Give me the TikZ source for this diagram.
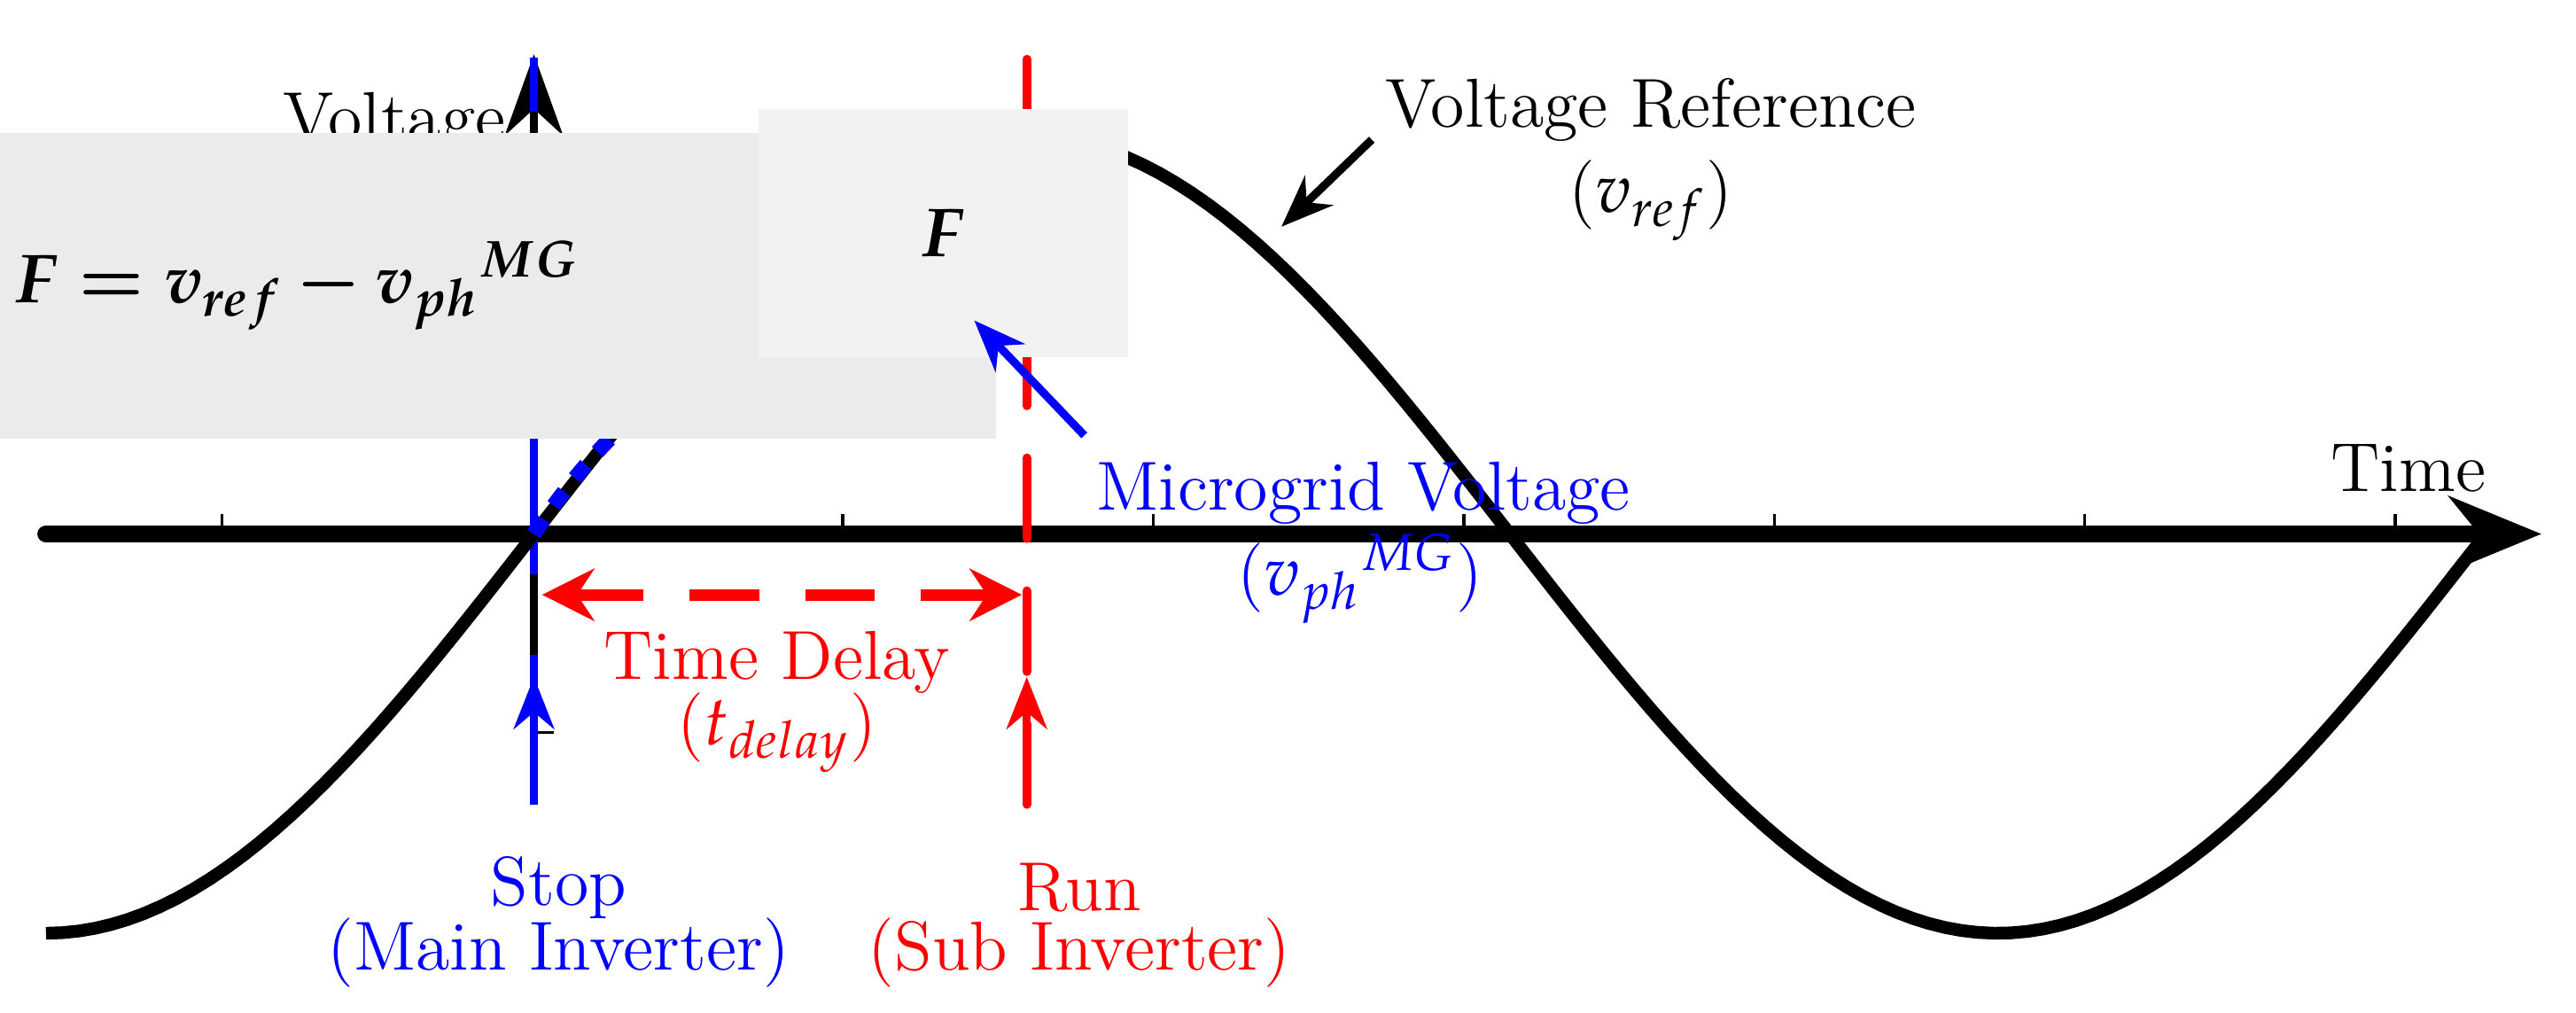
\documentclass[tikz,border=0pt]{standalone}
\usepackage{amsmath}
\usepackage{mathpazo}
\usepackage{bm}
\usetikzlibrary{arrows.meta,positioning}
\definecolor{shade}{gray}{0.86}
\definecolor{boxgray}{gray}{0.92}
\begin{document}
\begin{tikzpicture}[x=0.01cm,y=-0.01cm]

  % Styles
  \tikzset{lbl/.style={font=\large,align=center,inner sep=1pt}}
  \tikzset{to/.style={-{Stealth[length=9pt,width=7pt]},line width=1.4pt}}
  \tikzset{tick/.style={line width=0.5pt}}

  \useasboundingbox (0,0) rectangle (1568,616);

  % Shaded area between reference and microgrid voltage
  \fill[shade] plot[domain=325:622,samples=40] (\x,{325+243*cos((\x-28)*0.30303)})
    -- (622,187) .. controls (560,160) and (420,180) .. (325,325) -- cycle;

  % Ticks
  \foreach \tx in {135,513,702,891,1080,1269,1458}
    \draw[tick] (\tx,325) -- (\tx,313);
  \foreach \ty in {82,203,446}
    \draw[tick] (325,\ty) -- (337,\ty);

  % Axes
  \coordinate (xs) at (28,325);
  \coordinate (xe) at (1547,325);
  \coordinate (ys) at (325,490);
  \coordinate (ye) at (325,33);
  \draw[line width=3pt,-{Stealth[length=16pt,width=13pt]},line cap=round] (xs) -- (xe);
  \draw[line width=1.5pt,-{Stealth[length=14pt,width=10pt]}] (ys) -- (ye);
  \draw[blue,line width=1.5pt,dash pattern=on 26pt off 14pt] (325,490) -- (325,35);

  % Reference sine
  \draw[line width=2.2pt] plot[domain=28:1513,samples=150] (\x,{325+243*cos((\x-28)*0.30303)});

  % Microgrid voltage
  \draw[blue,line width=2.6pt,dash pattern=on 3pt off 3pt] (325,325) .. controls (420,180) and (560,160) .. (622,187);

  % Run line
  \draw[red,line width=1.5pt,dash pattern=on 14pt off 9pt,line cap=round] (625,36) -- (625,490);

  % Labels
  \node[lbl,anchor=east] (volt) at (312,75) {Voltage};
  \node[lbl] (time) at (1466,285) {Time};
  \node[lbl] (vref) at (1005,67) {Voltage Reference};
  \node[lbl] (vrefs) at (1005,122) {($v_{ref}$)};
  \node[lbl,text=blue] (mg) at (830,300) {Microgrid Voltage};
  \node[lbl,text=blue] (mgs) at (828,352) {($v_{ph}{}^{MG}$)};
  \node[lbl,text=red] (td) at (473,403) {Time Delay};
  \node[lbl,text=red] (tds) at (473,446) {($t_{delay}$)};
  \node[lbl,text=blue] (stop) at (340,540) {Stop};
  \node[lbl,text=blue] (main) at (340,580) {(Main Inverter)};
  \node[lbl,text=red] (run) at (657,540) {Run};
  \node[lbl,text=red] (sub) at (657,580) {(Sub Inverter)};
  \node[fill=boxgray,minimum width=242,minimum height=53,font=\large] (eq) at (181,174)
    {$\bm{F = v_{ref} - v_{ph}{}^{MG}}$};
  \node[fill=white!95!black,minimum width=64,minimum height=43,font=\large] (fbox) at (574,142) {$\bm{F}$};

  % Pointer arrows
  \coordinate (ra) at (835,85);
  \coordinate (rb) at (780,138);
  \draw[to] (ra) -- (rb);
  \coordinate (ma) at (660,265);
  \coordinate (mb) at (593,195);
  \draw[to,blue] (ma) -- (mb);
  \coordinate (sa) at (325,490);
  \coordinate (sb) at (325,412);
  \draw[to,blue] (sa) -- (sb);
  \coordinate (qa) at (625,490);
  \coordinate (qb) at (625,412);
  \draw[to,red] (qa) -- (qb);
  \coordinate (da) at (330,362);
  \coordinate (db) at (622,362);
  \draw[{Stealth[length=9pt,width=9pt]}-{Stealth[length=9pt,width=9pt]},red,line width=2pt,dash pattern=on 12pt off 8pt] (da) -- (db);

\end{tikzpicture}
\end{document}
